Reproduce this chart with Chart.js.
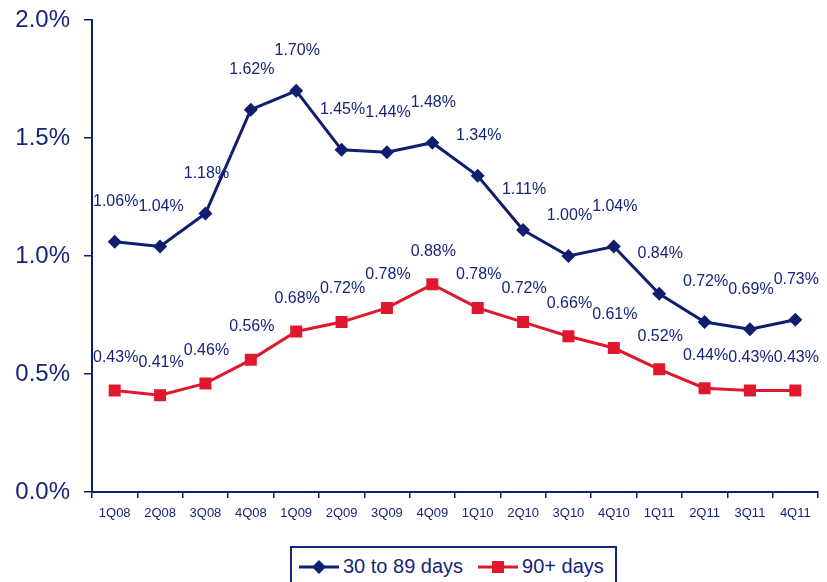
<!DOCTYPE html>
<html>
<head>
<meta charset="utf-8">
<script src="https://cdn.jsdelivr.net/npm/chart.js@4/dist/chart.umd.min.js"></script>
<style>
  html, body { margin: 0; padding: 0; background: #fff; }
  body { width: 827px; height: 582px; position: relative; overflow: hidden; font-family: "Liberation Sans", Arial, sans-serif; }
  #wrap { position: absolute; left: 0; top: 0; width: 827px; height: 530px; }
  #legend {
    position: absolute; left: 290px; top: 546px; width: 327px; height: 44px;
    border: 2px solid #16257a; box-sizing: border-box; display: flex; align-items: flex-start;
    padding-left: 7px; padding-top: 7px; color: #16257a; font-size: 20px; white-space: nowrap;
  }
  #legend .item { display: flex; align-items: center; margin-right: 15px; white-space: nowrap; }
  #legend svg { margin-right: 4px; flex: none; }
</style>
</head>
<body>
<div id="wrap"><canvas id="chart"></canvas></div>
<div id="legend"></div>
<script>
// Chart data
const quarters = ['1Q08', '2Q08', '3Q08', '4Q08', '1Q09', '2Q09', '3Q09', '4Q09',
  '1Q10', '2Q10', '3Q10', '4Q10', '1Q11', '2Q11', '3Q11', '4Q11'];
const days30to89 = [1.06, 1.04, 1.18, 1.62, 1.70, 1.45, 1.44, 1.48, 1.34, 1.11, 1.00, 1.04, 0.84, 0.72, 0.69, 0.73];
const days90plus = [0.43, 0.41, 0.46, 0.56, 0.68, 0.72, 0.78, 0.88, 0.78, 0.72, 0.66, 0.61, 0.52, 0.44, 0.43, 0.43];
const yTicks = [0, 0.5, 1.0, 1.5, 2.0];

const NAVY = '#0f1e6e';
const TEXT = '#16257a';
const RED = '#e0182d';
const FONT = '"Liberation Sans", Arial, sans-serif';

// Draws the value labels above each point
const pointLabels = {
  id: 'pointLabels',
  afterDatasetsDraw(chart) {
    const ctx = chart.ctx;
    ctx.save();
    ctx.font = '16px ' + FONT;
    ctx.fillStyle = TEXT;
    ctx.textAlign = 'center';
    ctx.textBaseline = 'middle';
    chart.data.datasets.forEach((ds, i) => {
      const meta = chart.getDatasetMeta(i);
      meta.data.forEach((pt, j) => {
        ctx.fillText(ds.data[j].toFixed(2) + '%', pt.x + 1, pt.y + ds.labelOffset);
      });
    });
    ctx.restore();
  }
};

const chart = new Chart(document.getElementById('chart'), {
  type: 'line',
  data: {
    labels: quarters,
    datasets: [{
      label: '30 to 89 days',
      data: days30to89,
      borderColor: NAVY,
      backgroundColor: NAVY,
      borderWidth: 3,
      pointStyle: 'rectRot',
      pointRadius: 7,
      pointBorderWidth: 0,
      tension: 0,
      labelOffset: -40
    }, {
      label: '90+ days',
      data: days90plus,
      borderColor: RED,
      backgroundColor: RED,
      borderWidth: 3,
      pointStyle: 'rect',
      pointRadius: 8.5,
      pointBorderWidth: 0,
      tension: 0,
      labelOffset: -33
    }]
  },
  options: {
    responsive: true,
    maintainAspectRatio: false,
    animation: false,
    layout: { padding: { top: 20, right: 9, left: 0, bottom: 0 } },
    plugins: {
      legend: { display: false },
      tooltip: { enabled: false }
    },
    scales: {
      x: {
        offset: true,
        grid: { offset: true, drawOnChartArea: false, drawTicks: true, tickLength: 6, color: NAVY, lineWidth: 1.5 },
        border: { color: NAVY, width: 2 },
        ticks: { color: TEXT, font: { family: FONT, size: 13 }, padding: 8, maxRotation: 0, autoSkip: false },
        afterFit(scale) { scale.height = 38; }
      },
      y: {
        min: 0,
        max: 2,
        afterBuildTicks(scale) { scale.ticks = yTicks.map(v => ({ value: v })); },
        grid: { drawOnChartArea: false, drawTicks: true, tickLength: 8, color: NAVY, lineWidth: 1.5 },
        border: { color: NAVY, width: 2 },
        ticks: {
          color: TEXT,
          font: { family: FONT, size: 24 },
          padding: 14,
          callback: v => v.toFixed(1) + '%'
        },
        afterFit(scale) {
          scale.width = 92;
          scale.paddingTop = 0;
          scale.paddingBottom = 0;
        }
      }
    }
  },
  plugins: [pointLabels]
});

// HTML legend with line + marker swatches
function buildLegend() {
  const legend = document.getElementById('legend');
  chart.data.datasets.forEach(ds => {
    const item = document.createElement('div');
    item.className = 'item';
    const c = ds.borderColor;
    const marker = ds.pointStyle === 'rectRot'
      ? `<polygon points="20,3 27,10 20,17 13,10" fill="${c}"/>`
      : `<rect x="14" y="4" width="12" height="12" fill="${c}"/>`;
    item.innerHTML = `<svg width="40" height="20"><line x1="0" y1="10" x2="40" y2="10" stroke="${c}" stroke-width="3"/>${marker}</svg><span>${ds.label}</span>`;
    legend.appendChild(item);
  });
}
buildLegend();
</script>
</body>
</html>
